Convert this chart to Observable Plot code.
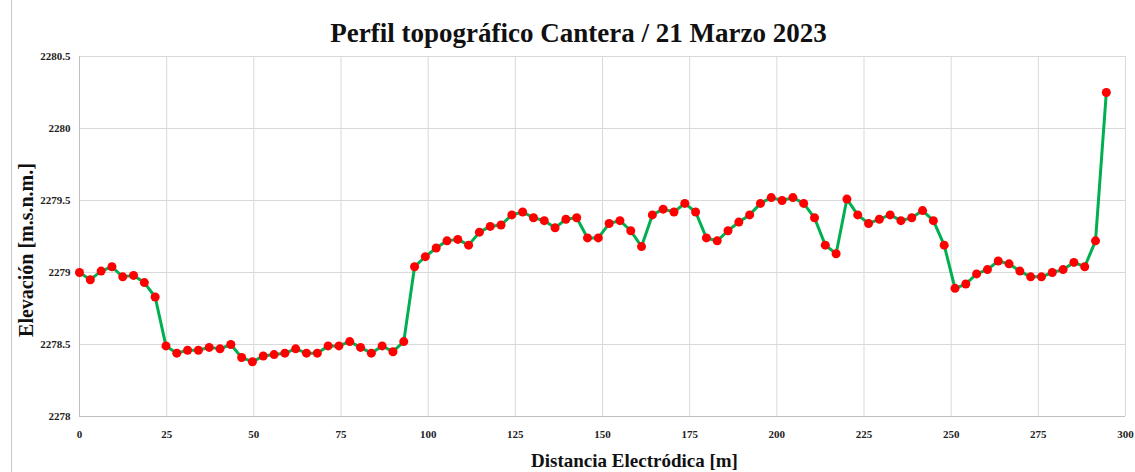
<!DOCTYPE html>
<html>
<head>
<meta charset="utf-8">
<script src="https://cdn.jsdelivr.net/npm/d3@7"></script>
<script src="https://cdn.jsdelivr.net/npm/@observablehq/plot@0.6"></script>
<style>
  html, body { margin: 0; padding: 0; background: #fff; }
</style>
</head>
<body>
<div id="chart"></div>
<script>
const titleText = "Perfil topográfico Cantera / 21 Marzo 2023";
const xLabel = "Distancia Electródica [m]";
const yLabel = "Elevación [m.s.n.m.]";

const distance = [0, 3.1, 6.2, 9.3, 12.4, 15.5, 18.6, 21.7, 24.8, 27.9, 31, 34.1, 37.2, 40.3, 43.4, 46.5, 49.6, 52.7, 55.8, 58.9, 62, 65.1, 68.2, 71.3, 74.4, 77.5, 80.6, 83.7, 86.8, 89.9, 93, 96.1, 99.2, 102.3, 105.4, 108.5, 111.6, 114.7, 117.8, 120.9, 124, 127.1, 130.2, 133.3, 136.4, 139.5, 142.6, 145.7, 148.8, 151.9, 155, 158.1, 161.2, 164.3, 167.4, 170.5, 173.6, 176.7, 179.8, 182.9, 186, 189.1, 192.2, 195.3, 198.4, 201.5, 204.6, 207.7, 210.8, 213.9, 217, 220.1, 223.2, 226.3, 229.4, 232.5, 235.6, 238.7, 241.8, 244.9, 248, 251.1, 254.2, 257.3, 260.4, 263.5, 266.6, 269.7, 272.8, 275.9, 279, 282.1, 285.2, 288.3, 291.4, 294.5];

const elevation = [2279.00, 2278.95, 2279.01, 2279.04, 2278.97, 2278.98, 2278.93, 2278.83, 2278.49, 2278.44,
  2278.46, 2278.46, 2278.48, 2278.47, 2278.50, 2278.41, 2278.38, 2278.42, 2278.43, 2278.44,
  2278.47, 2278.44, 2278.44, 2278.49, 2278.49, 2278.52, 2278.48, 2278.44, 2278.49, 2278.45,
  2278.52, 2279.04, 2279.11, 2279.17, 2279.22, 2279.23, 2279.19, 2279.28, 2279.32, 2279.33,
  2279.40, 2279.42, 2279.38, 2279.36, 2279.31, 2279.37, 2279.38, 2279.24, 2279.24, 2279.34,
  2279.36, 2279.29, 2279.18, 2279.40, 2279.44, 2279.42, 2279.48, 2279.42, 2279.24, 2279.22,
  2279.29, 2279.35, 2279.40, 2279.48, 2279.52, 2279.50, 2279.52, 2279.48, 2279.38, 2279.19,
  2279.13, 2279.51, 2279.40, 2279.34, 2279.37, 2279.40, 2279.36, 2279.38, 2279.43, 2279.36,
  2279.19, 2278.89, 2278.92, 2278.99, 2279.02, 2279.08, 2279.06, 2279.01, 2278.97, 2278.97,
  2279.00, 2279.02, 2279.07, 2279.04, 2279.22, 2280.25];

const xTicks = [0, 25, 50, 75, 100, 125, 150, 175, 200, 225, 250, 275, 300];
const yTicks = [2278, 2278.5, 2279, 2279.5, 2280, 2280.5];

const data = distance.map((d, i) => ({x: d, y: elevation[i]}));

const serif = "'Liberation Serif', 'Times New Roman', serif";

const chart = Plot.plot({
  width: 1135,
  height: 472,
  marginLeft: 79,
  marginRight: 10,
  marginTop: 56,
  marginBottom: 56,
  style: {fontFamily: serif, fontWeight: "bold", fontSize: "11px", color: "#222", background: "#fff"},
  x: {domain: [0, 300], ticks: xTicks, label: null},
  y: {domain: [2278, 2280.5], ticks: yTicks, label: null},
  marks: [
    Plot.gridX(xTicks, {stroke: "#d9d9d9", strokeOpacity: 1}),
    Plot.gridY(yTicks, {stroke: "#d9d9d9", strokeOpacity: 1}),
    Plot.ruleY([2278], {stroke: "#bfbfbf"}),
    Plot.ruleX([0], {stroke: "#bfbfbf"}),
    Plot.axisX(xTicks, {tickSize: 0, tickPadding: 14, tickFormat: d => String(d), label: null}),
    Plot.axisY(yTicks, {tickSize: 0, tickPadding: 9, tickFormat: d => String(d), label: null}),
    Plot.line(data, {x: "x", y: "y", stroke: "#00b050", strokeWidth: 3}),
    Plot.dot(data, {x: "x", y: "y", r: 4.5, fill: "#ff0000", stroke: "none"}),
    Plot.text([titleText], {frameAnchor: "top", dx: -24, dy: -34, fontSize: 27, fontWeight: "bold", fill: "#111", fontFamily: serif}),
    Plot.text([xLabel], {frameAnchor: "bottom", dx: 32, dy: 50, fontSize: 19, fontWeight: "bold", fill: "#111", fontFamily: serif})
  ]
});

document.getElementById("chart").appendChild(chart);

const svg = d3.select(chart);
// y axis title
svg.append("text")
  .attr("transform", "translate(28,250) rotate(-90)")
  .attr("text-anchor", "middle")
  .attr("dominant-baseline", "middle")
  .attr("font-family", serif)
  .attr("font-weight", "bold")
  .attr("font-size", 20)
  .attr("fill", "#111")
  .text(yLabel);

// faint outer border line on the left side of the figure
svg.append("line")
  .attr("x1", 11.5).attr("x2", 11.5).attr("y1", 0).attr("y2", 472)
  .attr("stroke", "#c8c8c8").attr("stroke-width", 1);
</script>
</body>
</html>
